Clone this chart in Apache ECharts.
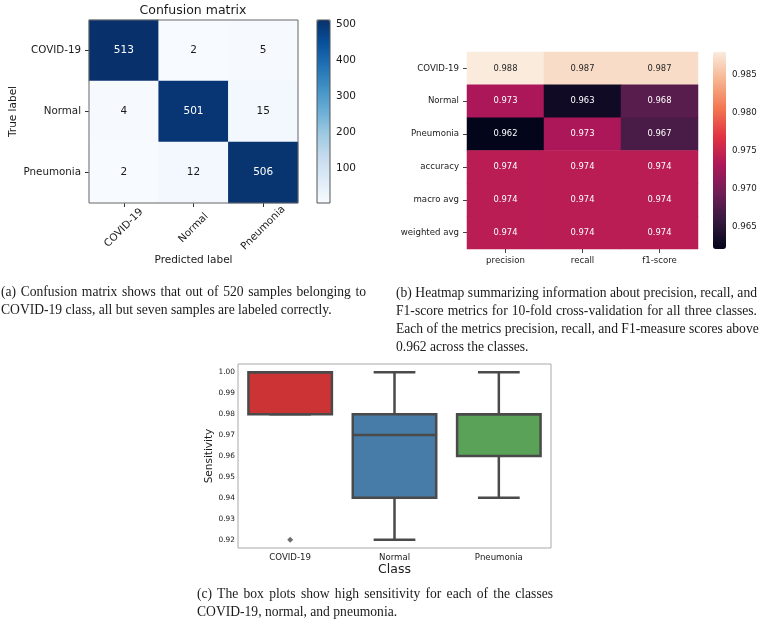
<!DOCTYPE html>
<html><head><meta charset="utf-8">
<script src="https://cdn.jsdelivr.net/npm/echarts@6/dist/echarts.min.js"></script>
<style>
html,body{margin:0;padding:0;background:#fff;}
#chart{position:absolute;left:0;top:0;width:760px;height:620px;}
.ln{position:absolute;font-family:"Liberation Serif","DejaVu Serif",serif;font-size:13.6px;line-height:18px;height:18px;color:#1a1a1a;white-space:nowrap;overflow:visible;}
.ln.j{text-align:justify;text-align-last:justify;}
</style></head><body>
<div id="chart"></div>
<div id="caps"></div>
<script>
// ---------- data ----------
const cmLabels = ['COVID-19', 'Normal', 'Pneumonia'];
const cmValues = [ // rows: true label, cols: predicted label
  [513, 2, 5],
  [4, 501, 15],
  [2, 12, 506]
];
const cmTicks = [100, 200, 300, 400, 500];

const metricRows = ['COVID-19', 'Normal', 'Pneumonia', 'accuracy', 'macro avg', 'weighted avg'];
const metricCols = ['precision', 'recall', 'f1-score'];
const metricValues = [
  [0.988, 0.987, 0.987],
  [0.973, 0.963, 0.968],
  [0.962, 0.973, 0.967],
  [0.974, 0.974, 0.974],
  [0.974, 0.974, 0.974],
  [0.974, 0.974, 0.974]
];
const metricTicks = [0.965, 0.970, 0.975, 0.980, 0.985];

const boxClasses = ['COVID-19', 'Normal', 'Pneumonia'];
// [lower whisker, Q1, median, Q3, upper whisker]
const boxStats = [
  [0.98, 0.98, 1.00, 1.00, 1.00],
  [0.92, 0.94, 0.97, 0.98, 1.00],
  [0.94, 0.96, 0.98, 0.98, 1.00]
];
const boxOutliers = [[0, 0.92]];
const boxTicks = [0.92, 0.93, 0.94, 0.95, 0.96, 0.97, 0.98, 0.99, 1.00];

const captions = {
  a: ['(a) Confusion matrix shows that out of 520 samples belonging to',
      'COVID-19 class, all but seven samples are labeled correctly.'],
  b: ['(b) Heatmap summarizing information about precision, recall, and',
      'F1-score metrics for 10-fold cross-validation for all three classes.',
      'Each of the metrics precision, recall, and F1-measure scores above',
      '0.962 across the classes.'],
  c: ['(c) The box plots show high sensitivity for each of the classes',
      'COVID-19, normal, and pneumonia.']
};

// ---------- styles ----------
const blues = ['#f7fbff','#deebf7','#c6dbef','#9ecae1','#6baed6','#4292c6','#2171b5','#08519c','#08306b'];
const rocket = ['#03051a','#35193e','#701f57','#ad1759','#e13342','#f37651','#f6b48f','#faebdd'];
const boxColors = ['#cb3335', '#477ca8', '#59a257'];
const gray = '#4a4a4a';
const FONT = 'DejaVu Sans';
const txt = '#1a1a1a';

// captions (HTML text)
const capLayout = { a: {x: 1, w: 365, y0: 292}, b: {x: 396, w: 361, y0: 292.5}, c: {x: 197, w: 356, y0: 594} };
const capsEl = document.getElementById('caps');
Object.keys(captions).forEach(k => {
  const L = capLayout[k];
  captions[k].forEach((t, i) => {
    const d = document.createElement('div');
    d.className = 'ln' + (i < captions[k].length - 1 ? ' j' : '');
    d.style.left = L.x + 'px';
    d.style.top = (L.y0 - 9 + i * 18.3) + 'px';
    d.style.width = L.w + 'px';
    d.textContent = t;
    capsEl.appendChild(d);
  });
});

const cmMin = Math.min(...cmValues.flat()), cmMax = Math.max(...cmValues.flat());
const mMin = Math.min(...metricValues.flat()), mMax = Math.max(...metricValues.flat());

const cmData = [];
cmValues.forEach((row, r) => row.forEach((v, c) => {
  cmData.push({ value: [c, r, v], label: { color: v > (cmMin + cmMax) / 2 ? '#ffffff' : '#1a1a1a' } });
}));
const mData = [];
metricValues.forEach((row, r) => row.forEach((v, c) => {
  const t = (v - mMin) / (mMax - mMin);
  mData.push({ value: [c, r, v], label: { color: t > 0.75 ? '#262626' : '#ffffff' } });
}));

const bLo = Math.min(...boxStats.map(s => s[0]), ...boxOutliers.map(o => o[1]));
const bHi = Math.max(...boxStats.map(s => s[4]));
const bPad = (bHi - bLo) * 0.05;

const chart = echarts.init(document.getElementById('chart'), null, { renderer: 'canvas' });

const axisText = (size) => ({ fontFamily: FONT, fontSize: size, color: txt });

const option = {
  animation: false,
  textStyle: { fontFamily: FONT },
  graphic: [
    { type: 'text', x: 193, y: 11, style: { text: 'Confusion matrix', align: 'center', verticalAlign: 'middle', font: '12.5px "DejaVu Sans"', fill: txt } }
  ],
  grid: [
    { left: 89, top: 20, width: 209, height: 183, show: true, borderColor: '#666', borderWidth: 1, backgroundColor: 'transparent', z: 10 },
    { left: 317, top: 20, width: 13, height: 183, show: true, borderColor: '#555', borderWidth: 1, backgroundColor: 'transparent', z: 10 },
    { left: 467, top: 52, width: 231, height: 197, show: false },
    { left: 713, top: 52, width: 13, height: 197, show: false },
    { left: 238, top: 364, width: 313, height: 184, show: true, borderColor: '#a8a8a8', borderWidth: 1, backgroundColor: 'transparent' }
  ],
  xAxis: [
    { gridIndex: 0, type: 'category', data: cmLabels, position: 'bottom',
      name: 'Predicted label', nameLocation: 'middle', nameGap: 50, nameTextStyle: axisText(10.5),
      axisLine: { show: false }, axisTick: { show: true, length: 4, alignWithLabel: true, lineStyle: { color: '#333' } },
      axisLabel: { rotate: 45, align: 'center', verticalAlign: 'middle', margin: 25, ...axisText(10.3) }, splitLine: { show: false } },
    { gridIndex: 1, type: 'value', min: 0, max: 1, show: false },
    { gridIndex: 2, type: 'category', data: metricCols, position: 'bottom',
      axisLine: { show: false }, axisTick: { show: true, length: 4, alignWithLabel: true, lineStyle: { color: '#444' } },
      axisLabel: { margin: 7, ...axisText(8.6) }, splitLine: { show: false } },
    { gridIndex: 3, type: 'value', min: 0, max: 1, show: false },
    { gridIndex: 4, type: 'category', data: boxClasses, position: 'bottom',
      name: 'Class', nameLocation: 'middle', nameGap: 11, nameTextStyle: axisText(12.5),
      axisLine: { show: false }, axisTick: { show: false },
      axisLabel: { margin: 5, ...axisText(8.6) }, splitLine: { show: false } }
  ],
  yAxis: [
    { gridIndex: 0, type: 'category', data: cmLabels, inverse: true,
      name: 'True label', nameLocation: 'middle', nameGap: 70, nameRotate: 90, nameTextStyle: axisText(10.5),
      axisLine: { show: false }, axisTick: { show: true, length: 4, alignWithLabel: true, lineStyle: { color: '#333' } },
      axisLabel: { margin: 8, ...axisText(10.3) }, splitLine: { show: false } },
    { gridIndex: 1, type: 'value', position: 'right', min: cmMin, max: cmMax,
      axisLine: { show: false }, splitLine: { show: false },
      axisTick: { show: true, length: 4, inside: false, customValues: cmTicks, lineStyle: { color: '#333' } },
      axisLabel: { margin: 6, customValues: cmTicks, ...axisText(10.5) } },
    { gridIndex: 2, type: 'category', data: metricRows, inverse: true,
      axisLine: { show: false }, axisTick: { show: true, length: 4, alignWithLabel: true, lineStyle: { color: '#444' } },
      axisLabel: { margin: 8, ...axisText(8.6) }, splitLine: { show: false } },
    { gridIndex: 3, type: 'value', position: 'right', min: mMin, max: mMax,
      axisLine: { show: false }, splitLine: { show: false },
      axisTick: { show: true, length: 4, customValues: metricTicks, lineStyle: { color: '#444' } },
      axisLabel: { margin: 6, customValues: metricTicks, formatter: v => v.toFixed(3), ...axisText(8.7) } },
    { gridIndex: 4, type: 'value', min: bLo - bPad, max: bHi + bPad,
      name: 'Sensitivity', nameLocation: 'middle', nameGap: 23, nameRotate: 90, nameTextStyle: axisText(10.5),
      axisLine: { show: false }, axisTick: { show: false }, splitLine: { show: false },
      axisLabel: { margin: 3, customValues: boxTicks, formatter: v => v.toFixed(2), ...axisText(7.4) } }
  ],
  visualMap: [
    { type: 'continuous', seriesIndex: 0, min: cmMin, max: cmMax, orient: 'vertical',
      left: 317, top: 20, itemWidth: 13, itemHeight: 183, padding: 0, calculable: false, hoverLink: false,
      inRange: { color: blues }, text: null, showLabel: false },
    { type: 'continuous', seriesIndex: 1, min: mMin, max: mMax, orient: 'vertical',
      left: 713, top: 52, itemWidth: 13, itemHeight: 197, padding: 0, calculable: false, hoverLink: false,
      inRange: { color: rocket }, text: null, showLabel: false }
  ],
  series: [
    { type: 'heatmap', xAxisIndex: 0, yAxisIndex: 0, data: cmData,
      label: { show: true, fontFamily: FONT, fontSize: 10.5, formatter: p => String(p.value[2]) },
      itemStyle: { borderWidth: 0 } },
    { type: 'heatmap', xAxisIndex: 2, yAxisIndex: 2, data: mData,
      label: { show: true, fontFamily: FONT, fontSize: 8.4, formatter: p => p.value[2].toFixed(3) },
      itemStyle: { borderWidth: 0 } },
    { type: 'custom', xAxisIndex: 4, yAxisIndex: 4,
      data: boxStats.map((s, i) => [i, ...s]),
      encode: { x: 0, y: [1, 2, 3, 4, 5] },
      renderItem: function (params, api) {
        const i = api.value(0);
        const bw = api.size([1, 0])[0] * 0.8;
        const cx = api.coord([i, api.value(3)])[0];
        const yLo = api.coord([i, api.value(1)])[1];
        const yQ1 = api.coord([i, api.value(2)])[1];
        const yMed = api.coord([i, api.value(3)])[1];
        const yQ3 = api.coord([i, api.value(4)])[1];
        const yHi = api.coord([i, api.value(5)])[1];
        const ls = { stroke: gray, lineWidth: 2.5, fill: null };
        const cap = bw / 4;
        return { type: 'group', children: [
          { type: 'line', shape: { x1: cx, y1: yQ1, x2: cx, y2: yLo }, style: ls },
          { type: 'line', shape: { x1: cx, y1: yQ3, x2: cx, y2: yHi }, style: ls },
          { type: 'line', shape: { x1: cx - cap, y1: yLo, x2: cx + cap, y2: yLo }, style: ls },
          { type: 'line', shape: { x1: cx - cap, y1: yHi, x2: cx + cap, y2: yHi }, style: ls },
          { type: 'rect', shape: { x: cx - bw / 2, y: yQ3, width: bw, height: yQ1 - yQ3 },
            style: { fill: boxColors[params.dataIndex], stroke: gray, lineWidth: 2.5 } },
          { type: 'line', shape: { x1: cx - bw / 2, y1: yMed, x2: cx + bw / 2, y2: yMed }, style: ls }
        ] };
      } },
    { type: 'scatter', xAxisIndex: 4, yAxisIndex: 4, data: boxOutliers,
      symbol: 'diamond', symbolSize: 6, itemStyle: { color: gray } }
  ]
};
chart.setOption(option);
</script>
</body></html>
